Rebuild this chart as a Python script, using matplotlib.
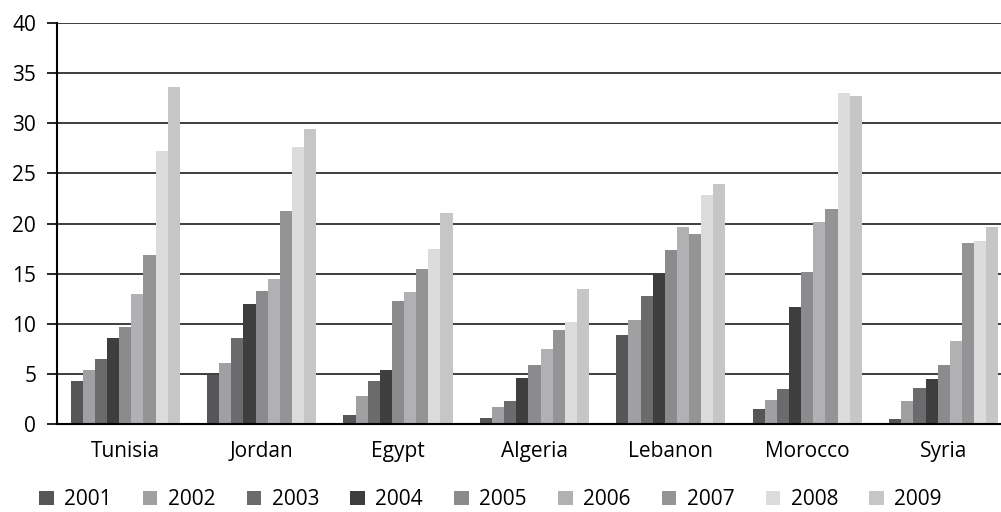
import numpy as np
import matplotlib.pyplot as plt

# ==========================
# DATA
# ==========================

countries = ["Tunisia", "Jordan", "Egypt", "Algeria", "Lebanon", "Morocco", "Syria"]
years = ["2001", "2002", "2003", "2004", "2005", "2006", "2007", "2008", "2009"]

v2001 = [4.3, 4.9, 0.9, 0.6, 8.9, 1.5, 0.5]
v2002 = [5.4, 6.1, 2.8, 1.7, 10.4, 2.4, 2.3]
v2003 = [6.5, 8.6, 4.3, 2.3, 12.8, 3.5, 3.6]
v2004 = [8.6, 12.0, 5.4, 4.6, 15.1, 11.7, 4.5]
v2005 = [9.7, 13.3, 12.3, 5.9, 17.4, 15.2, 5.9]
v2006 = [13.0, 14.5, 13.2, 7.5, 19.7, 20.1, 8.3]
v2007 = [16.9, 21.2, 15.5, 9.4, 19.0, 21.4, 18.1]
v2008 = [27.2, 27.6, 17.5, 10.2, 22.8, 33.0, 18.3]
v2009 = [33.6, 29.4, 21.0, 13.5, 23.9, 32.7, 19.7]

series = [v2001, v2002, v2003, v2004, v2005, v2006, v2007, v2008, v2009]

colors = ["#555658", "#a0a0a2", "#6b6b6e", "#3e3e3e", "#8b8b8e",
          "#b1b1b3", "#949497", "#dcdcdd", "#c6c6c8"]

# ==========================
# PLOT
# ==========================

plt.rcParams["font.family"] = ["Open Sans", "DejaVu Sans"]

fig = plt.figure(figsize=(10.01, 5.12), dpi=100)
ax = fig.add_axes([57 / 1001, 88 / 512, 944 / 1001, 401 / 512])

x = np.arange(len(countries))
width = 0.8 / len(series)

for i, vals in enumerate(series):
    ax.bar(x - 0.4 + width * (i + 0.5), vals, width,
           color=colors[i], label=years[i], zorder=3)

ax.set_ylim(0, 40)
ax.set_yticks(range(0, 41, 5))
ax.set_xlim(-0.5, 6.42)
ax.set_xticks(x)
ax.set_xticklabels(countries)

ax.grid(axis="y", color="#2e2e2e", linewidth=1.3, zorder=0)
ax.set_axisbelow(True)

for side in ["top", "right"]:
    ax.spines[side].set_visible(False)
for side in ["left", "bottom"]:
    ax.spines[side].set_linewidth(1.5)
    ax.spines[side].set_zorder(4)

ax.tick_params(axis="y", length=7, width=1.2, labelsize=15, pad=8)
ax.tick_params(axis="x", length=0, labelsize=15, pad=12)

fig.legend(loc="center", bbox_to_anchor=(0.49, 0.024), ncol=9,
           frameon=False, fontsize=15, handlelength=0.7,
           handleheight=0.7, handletextpad=0.5, columnspacing=1.5)

plt.savefig("out.png", dpi=100)
